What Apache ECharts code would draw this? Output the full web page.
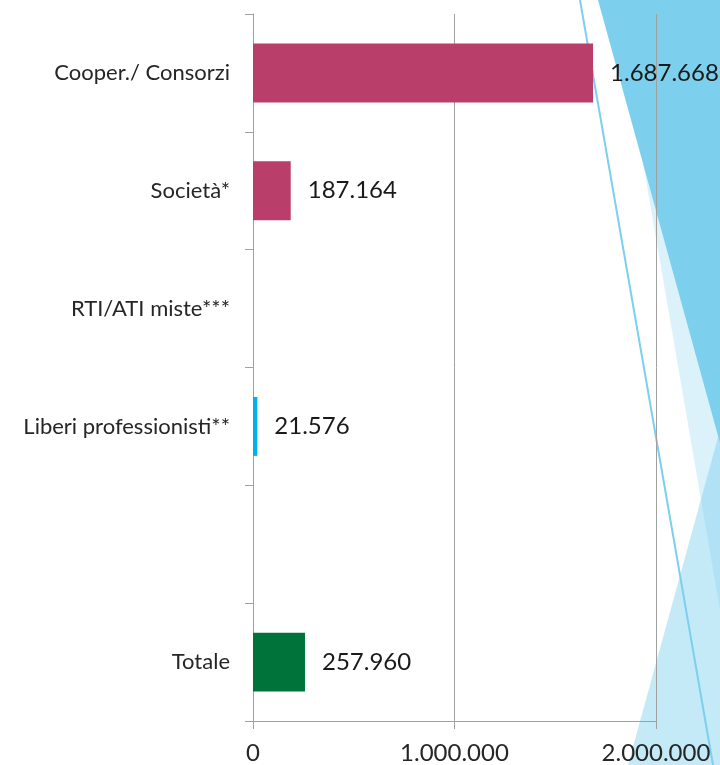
<!DOCTYPE html>
<html>
<head>
<meta charset="utf-8">
<script src="https://cdn.jsdelivr.net/npm/echarts@6/dist/echarts.min.js"></script>
<style>
  html, body { margin: 0; padding: 0; background: #fff; }
  #main { width: 720px; height: 765px; }
</style>
</head>
<body>
<div id="main"></div>
<script>
const categories = ['Cooper./ Consorzi', 'Società*', 'RTI/ATI miste***', 'Liberi professionisti**', '', 'Totale'];
const values = [1687668, 187164, '-', 21576, '-', 257960];
const barColors = ['#B93E69', '#B93E69', '#B93E69', '#00B0F0', '#B93E69', '#00733A'];
const xTicks = [0, 1000000, 2000000];

function fmt(v) {
  if (typeof v !== 'number') return '';
  return String(v).replace(/\B(?=(\d{3})+(?!\d))/g, '.');
}

document.addEventListener('DOMContentLoaded', function() {
  var myChart = echarts.init(document.getElementById('main'));

  // slide background decoration
  var deco = [
    { type: 'polygon', z: -10, shape: { points: [[628, 765], [720, 430], [720, 765]] }, style: { fill: 'rgba(125,207,238,0.45)' } },
    { type: 'polygon', z: -9, shape: { points: [[615, 0], [720, 0], [720, 610]] }, style: { fill: 'rgba(125,207,238,0.27)' } },
    { type: 'polygon', z: -8, shape: { points: [[598, 0], [720, 0], [720, 443]] }, style: { fill: '#7DCFEE' } },
    { type: 'line', z: -7, shape: { x1: 580, y1: 0, x2: 713, y2: 765 }, style: { stroke: '#7DCFEE', lineWidth: 2 } }
  ];

  var option = {
    animation: false,
    graphic: { elements: deco },
    grid: { left: 253, right: 64, top: 14, bottom: 43, containLabel: false },
    xAxis: {
      type: 'value',
      min: xTicks[0],
      max: xTicks[xTicks.length - 1],
      interval: xTicks[1] - xTicks[0],
      axisLine: { show: true, lineStyle: { color: '#A0A0A0' } },
      axisTick: { show: true, length: 8, lineStyle: { color: '#A0A0A0' } },
      splitLine: { show: true, lineStyle: { color: '#A0A0A0' } },
      axisLabel: {
        margin: 20,
        fontFamily: 'Lato',
        fontSize: 24,
        color: '#262626',
        formatter: fmt
      }
    },
    yAxis: {
      type: 'category',
      inverse: true,
      data: categories,
      axisLine: { show: true, lineStyle: { color: '#A0A0A0' } },
      axisTick: { show: true, length: 8, lineStyle: { color: '#A0A0A0' } },
      axisLabel: {
        margin: 23,
        fontFamily: 'Lato',
        fontSize: 22,
        color: '#262626'
      }
    },
    series: [{
      type: 'bar',
      barCategoryGap: '50%',
      data: values.map(function(v, i) {
        return { value: v, itemStyle: { color: barColors[i] } };
      }),
      label: {
        show: true,
        position: 'right',
        distance: 17,
        fontFamily: 'Lato',
        fontSize: 24,
        color: '#1a1a1a',
        formatter: function(p) { return fmt(p.value); }
      }
    }]
  };
  myChart.setOption(option);
});
</script>
</body>
</html>
